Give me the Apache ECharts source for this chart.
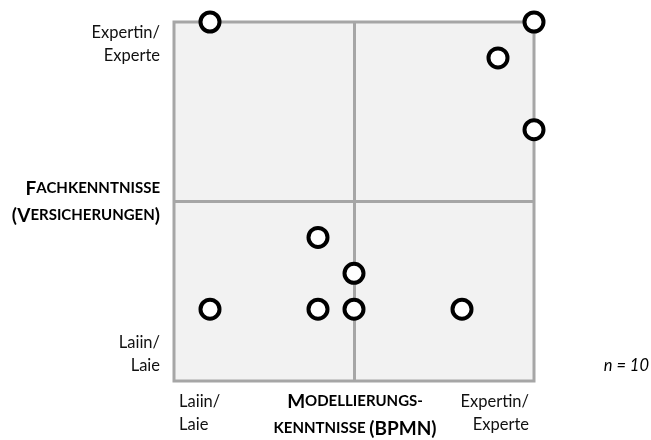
<!DOCTYPE html>
<html>
<head>
<meta charset="utf-8">
<script src="https://cdn.jsdelivr.net/npm/echarts@6/dist/echarts.min.js"></script>
<style>html,body{margin:0;padding:0;background:#fff;}#c{width:651px;height:440px;}</style>
</head>
<body>
<div id="c"></div>
<script>
// Data
const modellierung = [1, 10, 9, 10, 4, 5, 1, 4, 5, 8];   // x: Modellierungskenntnisse (0 = Laie, 10 = Experte)
const fachkenntnis = [10, 10, 9, 7, 4, 3, 2, 2, 2, 2];    // y: Fachkenntnisse
const levelLabels = ['Laiin/\nLaie', 'Expertin/\nExperte'];
const sampleLabel = 'n = 10';
const midValue = 5;

const points = modellierung.map((x, i) => [x, fachkenntnis[i]]);
const FONT = 'Lato';
const gray = '#a6a6a6';

const chart = echarts.init(document.getElementById('c'), null, {renderer: 'canvas'});
const reg = {fontFamily: FONT, fontSize: 16.5, fill: '#111', lineHeight: 23};
const rich = {
  b: {fontFamily: FONT, fontSize: 19, fontWeight: 'bold', fill: '#000', color: '#000', lineHeight: 27},
  s: {fontFamily: FONT, fontSize: 15, fontWeight: 'bold', fill: '#000', color: '#000', lineHeight: 27}
};
chart.setOption({
  animation: false,
  grid: {left: 174, top: 22, width: 360, height: 359, show: true, backgroundColor: '#f2f2f2', borderColor: gray, borderWidth: 3},
  xAxis: {type: 'value', min: 0, max: 10, interval: 5, axisLine: {show: false}, axisTick: {show: false}, axisLabel: {show: false}, splitLine: {show: false}},
  yAxis: {type: 'value', min: 0, max: 10, interval: 5, axisLine: {show: false}, axisTick: {show: false}, axisLabel: {show: false}, splitLine: {show: false}},
  series: [
    {
      type: 'line', data: [], z: 1,
      markLine: {
        silent: true, symbol: 'none', label: {show: false}, animation: false,
        lineStyle: {color: gray, width: 3, type: 'solid'},
        data: [{xAxis: midValue}, {yAxis: midValue}]
      }
    },
    {
      type: 'scatter', data: points, z: 5,
      symbol: 'circle', symbolSize: 19,
      itemStyle: {color: '#fff', borderColor: '#000', borderWidth: 4, opacity: 1}
    }
  ],
  graphic: [
    {type: 'text', style: Object.assign({}, reg, {text: levelLabels[1], x: 160, y: 44, align: 'right', verticalAlign: 'middle'})},
    {type: 'text', style: Object.assign({}, reg, {text: levelLabels[0], x: 160, y: 354, align: 'right', verticalAlign: 'middle'})},
    {type: 'text', style: {text: '{b|F}{s|ACHKENNTNISSE}\n{b|(V}{s|ERSICHERUNGEN}{b|)}', rich: rich, x: 160, y: 202, align: 'right', verticalAlign: 'middle'}},
    {type: 'text', style: Object.assign({}, reg, {text: levelLabels[0], x: 179, y: 413, align: 'left', verticalAlign: 'middle'})},
    {type: 'text', style: Object.assign({}, reg, {text: levelLabels[1], x: 529, y: 413, align: 'right', verticalAlign: 'middle'})},
    {type: 'text', style: {text: '{b|M}{s|ODELLIERUNGS-}\n{s|KENNTNISSE }{b|(BPMN)}', rich: rich, x: 355, y: 415, align: 'center', verticalAlign: 'middle'}},
    {type: 'text', style: {text: sampleLabel, x: 649, y: 366, align: 'right', verticalAlign: 'middle', fontFamily: FONT, fontSize: 16.5, fontStyle: 'italic', fill: '#000'}}
  ]
});
</script>
</body>
</html>
